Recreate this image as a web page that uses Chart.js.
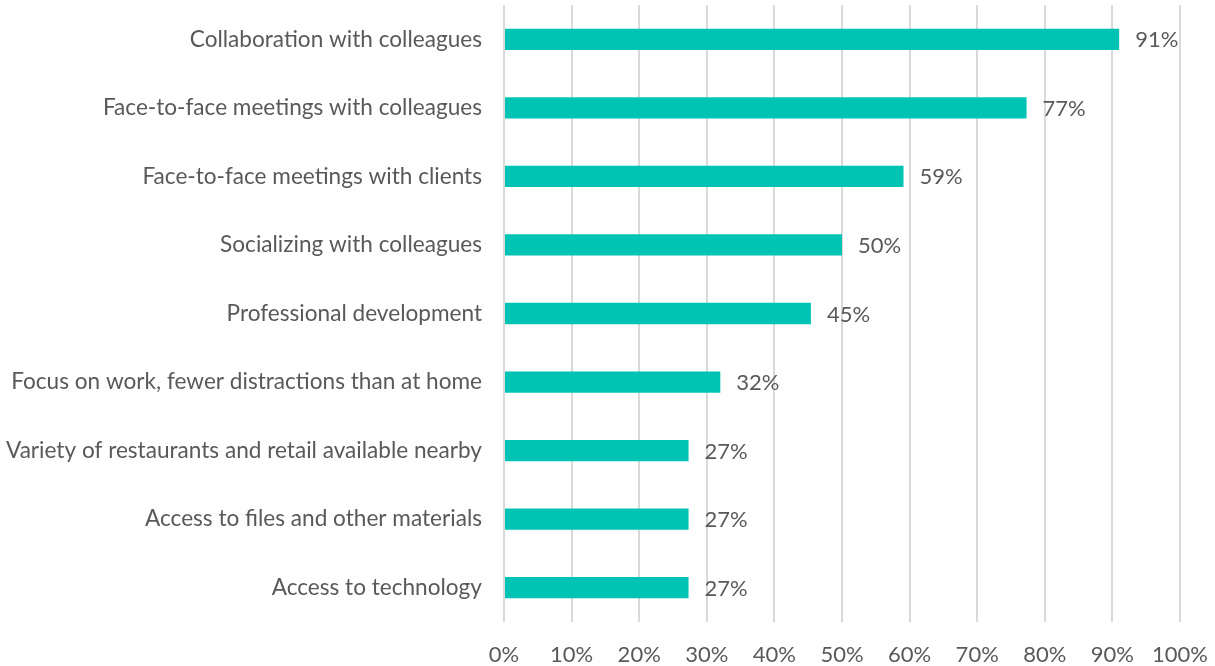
<!DOCTYPE html>
<html>
<head>
<meta charset="utf-8">
<script src="https://cdn.jsdelivr.net/npm/chart.js@4/dist/chart.umd.min.js"></script>
<style>
  html, body { margin: 0; padding: 0; background: #fff; }
  #wrap { width: 1215px; height: 666px; position: relative; }
</style>
</head>
<body>
<div id="wrap"><canvas id="chart"></canvas></div>
<script>
const categories = [
    'Collaboration with colleagues',
    'Face-to-face meetings with colleagues',
    'Face-to-face meetings with clients',
    'Socializing with colleagues',
    'Professional development',
    'Focus on work, fewer distractions than at home',
    'Variety of restaurants and retail available nearby',
    'Access to files and other materials',
    'Access to technology'
]
const shares = [91, 77.3, 59.1, 50, 45.4, 32, 27.3, 27.3, 27.3]
const xTicks = [0, 10, 20, 30, 40, 50, 60, 70, 80, 90, 100]

const textColor = '#595959'
const fontFamily = 'Lato, "Open Sans", sans-serif'
const fontSize = 22

const valueLabels = {
    id: 'valueLabels',
    afterDatasetsDraw(chart) {
        const {ctx} = chart
        const meta = chart.getDatasetMeta(0)
        ctx.save()
        ctx.fillStyle = textColor
        ctx.font = `${fontSize}px ${fontFamily}`
        ctx.textBaseline = 'middle'
        ctx.textAlign = 'left'
        meta.data.forEach((bar, i) => {
            ctx.fillText(Math.round(shares[i]) + '%', bar.x + 16, bar.y + 1)
        })
        ctx.restore()
    }
}

const ctx = document.getElementById('chart')
new Chart(ctx, {
    type: 'bar',
    data: {
        labels: categories,
        datasets: [{
            data: shares,
            backgroundColor: '#00C4B3',
            barPercentage: 0.62,
            categoryPercentage: 0.5
        }]
    },
    options: {
        indexAxis: 'y',
        responsive: true,
        maintainAspectRatio: false,
        animation: false,
        layout: {padding: {top: 5, right: 35, left: 0, bottom: 0}},
        plugins: {
            legend: {display: false},
            tooltip: {enabled: false}
        },
        scales: {
            x: {
                min: 0,
                max: 100,
                afterBuildTicks: (axis) => {
                    axis.ticks = xTicks.map(v => ({value: v}))
                },
                afterFit: (scale) => {
                    scale.height = 44
                    scale.paddingLeft = 0
                    scale.paddingRight = 0
                },
                border: {display: false},
                grid: {color: '#d9d9d9', lineWidth: 2, drawTicks: true, tickLength: 22, tickColor: 'rgba(0,0,0,0)'},
                ticks: {
                    color: textColor,
                    font: {family: fontFamily, size: fontSize, lineHeight: 1},
                    padding: 0,
                    maxRotation: 0,
                    autoSkip: false,
                    callback: (v) => v + '%'
                }
            },
            y: {
                afterFit: (scale) => {
                    scale.width = 504
                    scale.paddingTop = 0
                    scale.paddingBottom = 0
                },
                border: {display: false},
                grid: {display: false, drawTicks: true, tickLength: 22},
                ticks: {
                    color: textColor,
                    font: {family: fontFamily, size: 22.6, lineHeight: 1},
                    padding: 0,
                    autoSkip: false
                }
            }
        }
    },
    plugins: [valueLabels]
})
</script>
</body>
</html>
